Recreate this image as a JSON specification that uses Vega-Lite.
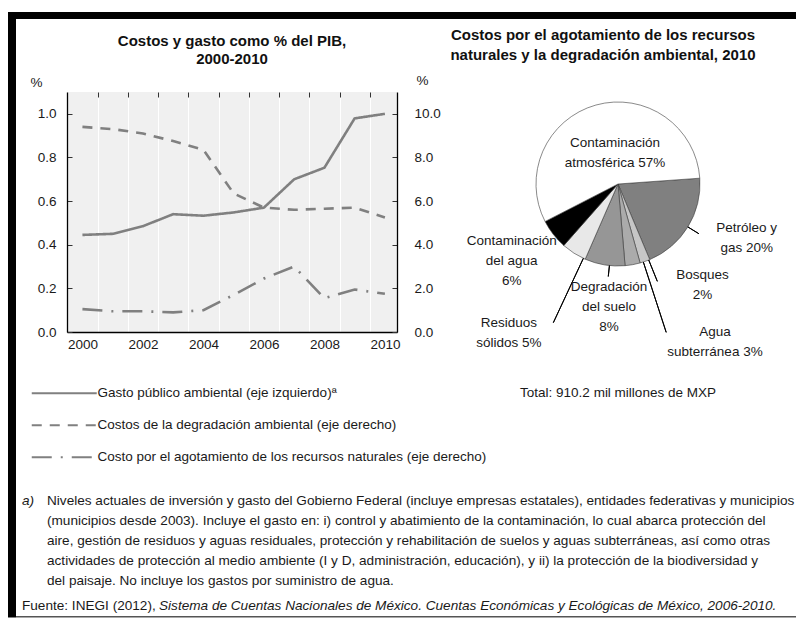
{
  "$schema": "https://vega.github.io/schema/vega-lite/v6.json",
  "padding": {"left": 8, "top": 12, "right": 0, "bottom": 0},
  "background": "white",
  "bounds": "flush",
  "spacing": 0,
  "columns": 5,
  "align": "each",
  "config": {
    "view": {"stroke": null},
    "font": "Liberation Sans, Arial, sans-serif",
    "title": {"font": "Liberation Sans, Arial, sans-serif", "fontSize": 15, "fontWeight": "bold", "color": "#111111", "lineHeight": 18, "anchor": "middle"},
    "axis": {"labelFont": "Liberation Sans, Arial, sans-serif", "labelFontSize": 13.5, "labelColor": "#1a1a1a", "titleFont": "Liberation Sans, Arial, sans-serif", "titleFontSize": 13.5, "titleColor": "#1a1a1a", "titleFontWeight": "normal", "labelFlush": false, "labelOverlap": false},
    "legend": {"labelFont": "Liberation Sans, Arial, sans-serif", "labelFontSize": 13.5, "labelColor": "#1a1a1a"},
    "text": {"font": "Liberation Sans, Arial, sans-serif", "fontSize": 13.6, "color": "#1a1a1a"}
  },
  "concat": [
    {"width": 8, "height": 7, "data": {"values": []}, "mark": "point", "encoding": {}, "view": {"fill": "#000000"}},
    {"width": 51, "height": 7, "data": {"values": []}, "mark": "point", "encoding": {}, "view": {"fill": "#000000"}},
    {"width": 330, "height": 7, "data": {"values": []}, "mark": "point", "encoding": {}, "view": {"fill": "#000000"}},
    {"width": 121, "height": 7, "data": {"values": []}, "mark": "point", "encoding": {}, "view": {"fill": "#000000"}},
    {"width": 278, "height": 7, "data": {"values": []}, "mark": "point", "encoding": {}, "view": {"fill": "#000000"}},

    {"width": 8, "height": 73, "data": {"values": []}, "mark": "point", "encoding": {}, "view": {"fill": "#000000"}},
    {"width": 1, "height": 1, "data": {"values": []}, "mark": "point", "encoding": {}},
    {"width": 1, "height": 1, "data": {"values": []}, "mark": "point", "encoding": {}},
    {"width": 1, "height": 1, "data": {"values": []}, "mark": "point", "encoding": {}},
    {
      "width": 200,
      "height": 73,
      "data": {"values": [{"t": "Costos por el agotamiento de los recursos\nnaturales y la degradación ambiental, 2010"}]},
      "mark": {"type": "text", "lineBreak": "\n", "lineHeight": 20, "fontSize": 15, "fontWeight": "bold", "color": "#111111", "align": "center", "baseline": "middle", "dx": -15, "dy": -20.5},
      "encoding": {"text": {"field": "t", "type": "nominal"}}
    },

    {"width": 8, "height": 240, "data": {"values": []}, "mark": "point", "encoding": {}, "view": {"fill": "#000000"}},
    {"width": 51, "height": 1, "data": {"values": []}, "mark": "point", "encoding": {}},
    {
      "width": 330,
      "height": 240,
      "view": {"fill": "#f0f0f0", "stroke": null},
      "title": {"text": ["Costos y gasto como % del PIB,", "2000-2010"], "offset": 6},
      "data": {"values": [
        {"anio": 2000, "serie": "Gasto público ambiental (eje izquierdo)ª", "valor": 0.445},
        {"anio": 2001, "serie": "Gasto público ambiental (eje izquierdo)ª", "valor": 0.45},
        {"anio": 2002, "serie": "Gasto público ambiental (eje izquierdo)ª", "valor": 0.485},
        {"anio": 2003, "serie": "Gasto público ambiental (eje izquierdo)ª", "valor": 0.54},
        {"anio": 2004, "serie": "Gasto público ambiental (eje izquierdo)ª", "valor": 0.533},
        {"anio": 2005, "serie": "Gasto público ambiental (eje izquierdo)ª", "valor": 0.548},
        {"anio": 2006, "serie": "Gasto público ambiental (eje izquierdo)ª", "valor": 0.57},
        {"anio": 2007, "serie": "Gasto público ambiental (eje izquierdo)ª", "valor": 0.7},
        {"anio": 2008, "serie": "Gasto público ambiental (eje izquierdo)ª", "valor": 0.753},
        {"anio": 2009, "serie": "Gasto público ambiental (eje izquierdo)ª", "valor": 0.979},
        {"anio": 2010, "serie": "Gasto público ambiental (eje izquierdo)ª", "valor": 1.0},
        {"anio": 2000, "serie": "Costos de la degradación ambiental (eje derecho)", "valor": 9.4},
        {"anio": 2001, "serie": "Costos de la degradación ambiental (eje derecho)", "valor": 9.3},
        {"anio": 2002, "serie": "Costos de la degradación ambiental (eje derecho)", "valor": 9.1},
        {"anio": 2003, "serie": "Costos de la degradación ambiental (eje derecho)", "valor": 8.75},
        {"anio": 2004, "serie": "Costos de la degradación ambiental (eje derecho)", "valor": 8.35},
        {"anio": 2005, "serie": "Costos de la degradación ambiental (eje derecho)", "valor": 6.35},
        {"anio": 2006, "serie": "Costos de la degradación ambiental (eje derecho)", "valor": 5.7},
        {"anio": 2007, "serie": "Costos de la degradación ambiental (eje derecho)", "valor": 5.6},
        {"anio": 2008, "serie": "Costos de la degradación ambiental (eje derecho)", "valor": 5.65},
        {"anio": 2009, "serie": "Costos de la degradación ambiental (eje derecho)", "valor": 5.7},
        {"anio": 2010, "serie": "Costos de la degradación ambiental (eje derecho)", "valor": 5.25},
        {"anio": 2000, "serie": "Costo por el agotamiento de los recursos naturales (eje derecho)", "valor": 1.05},
        {"anio": 2001, "serie": "Costo por el agotamiento de los recursos naturales (eje derecho)", "valor": 0.95},
        {"anio": 2002, "serie": "Costo por el agotamiento de los recursos naturales (eje derecho)", "valor": 0.95},
        {"anio": 2003, "serie": "Costo por el agotamiento de los recursos naturales (eje derecho)", "valor": 0.9},
        {"anio": 2004, "serie": "Costo por el agotamiento de los recursos naturales (eje derecho)", "valor": 1.0},
        {"anio": 2005, "serie": "Costo por el agotamiento de los recursos naturales (eje derecho)", "valor": 1.7},
        {"anio": 2006, "serie": "Costo por el agotamiento de los recursos naturales (eje derecho)", "valor": 2.45},
        {"anio": 2007, "serie": "Costo por el agotamiento de los recursos naturales (eje derecho)", "valor": 3.0},
        {"anio": 2008, "serie": "Costo por el agotamiento de los recursos naturales (eje derecho)", "valor": 1.55},
        {"anio": 2009, "serie": "Costo por el agotamiento de los recursos naturales (eje derecho)", "valor": 1.95},
        {"anio": 2010, "serie": "Costo por el agotamiento de los recursos naturales (eje derecho)", "valor": 1.75}
      ]},
      "layer": [
        {
          "transform": [{"filter": "datum.serie === 'Gasto público ambiental (eje izquierdo)ª'"}],
          "mark": {"type": "line", "color": "#808080", "strokeWidth": 2.6, "strokeCap": "butt"},
          "encoding": {
            "x": {"field": "anio", "type": "quantitative", "scale": {"domain": [1999.49, 2010.4], "nice": false, "zero": false},
              "axis": {"values": [2000, 2002, 2004, 2006, 2008, 2010], "format": "d", "ticks": false, "grid": false, "domainColor": "#000000", "domainWidth": 1.3, "labelPadding": 5, "title": null}},
            "y": {"field": "valor", "type": "quantitative", "scale": {"domain": [0, 1.1], "nice": false},
              "axis": {"orient": "left", "values": [0, 0.2, 0.4, 0.6, 0.8, 1.0], "format": ".1f", "grid": false, "domainColor": "#000000", "domainWidth": 1.3, "tickColor": "#333333", "tickSize": -5, "labelPadding": 16, "title": "%", "titleAngle": 0, "titleX": -31, "titleY": -10, "titleAlign": "center", "titleBaseline": "middle"}},
            "strokeDash": {"field": "serie", "type": "nominal",
              "scale": {"domain": ["Gasto público ambiental (eje izquierdo)ª", "Costos de la degradación ambiental (eje derecho)", "Costo por el agotamiento de los recursos naturales (eje derecho)"], "range": [[1, 0], [10, 8], [20, 9, 2, 9]]},
              "legend": {"orient": "none", "legendX": 49.5, "legendY": 374.5, "title": null, "symbolType": "M-6.5,0H6.5", "symbolSize": 100, "symbolStrokeWidth": 2, "symbolStrokeColor": "#808080", "symbolFillColor": "transparent", "rowPadding": 17, "labelOffset": 26.5, "padding": 0, "direction": "vertical", "labelLimit": 600}}
          }
        },
        {
          "transform": [{"filter": "datum.serie !== 'Gasto público ambiental (eje izquierdo)ª'"}],
          "mark": {"type": "line", "color": "#808080", "strokeWidth": 2.6, "strokeCap": "butt"},
          "encoding": {
            "x": {"field": "anio", "type": "quantitative", "scale": {"domain": [1999.49, 2010.4], "nice": false, "zero": false},
              "axis": {"values": [2000.5, 2001.5, 2002.5, 2003.5, 2004.5, 2005.5, 2006.5, 2007.5, 2008.5, 2009.5], "labels": false, "ticks": true, "tickSize": -5, "tickColor": "#333333", "domain": false, "grid": true, "gridColor": "#ffffff", "gridWidth": 1, "title": null}},
            "y": {"field": "valor", "type": "quantitative", "scale": {"domain": [0, 11], "nice": false},
              "axis": {"orient": "right", "values": [0, 2, 4, 6, 8, 10], "format": ".1f", "grid": false, "domainColor": "#000000", "domainWidth": 1.3, "tickColor": "#333333", "tickSize": -5, "labelPadding": 22, "title": "%", "titleAngle": 0, "titleX": 25, "titleY": -12, "titleAlign": "center", "titleBaseline": "middle"}},
            "strokeDash": {"field": "serie", "type": "nominal",
              "scale": {"domain": ["Gasto público ambiental (eje izquierdo)ª", "Costos de la degradación ambiental (eje derecho)", "Costo por el agotamiento de los recursos naturales (eje derecho)"], "range": [[1, 0], [10, 8], [20, 9, 2, 9]]},
              "legend": {"orient": "none", "legendX": 49.5, "legendY": 374.5, "title": null, "symbolType": "M-6.5,0H6.5", "symbolSize": 100, "symbolStrokeWidth": 2, "symbolStrokeColor": "#808080", "symbolFillColor": "transparent", "rowPadding": 17, "labelOffset": 26.5, "padding": 0, "direction": "vertical", "labelLimit": 600}}
          }
        }
      ],
      "resolve": {"scale": {"y": "independent"}, "axis": {"x": "independent", "y": "independent"}}
    },
    {"width": 121, "height": 1, "data": {"values": []}, "mark": "point", "encoding": {}},
    {
      "width": 200,
      "height": 184,
      "data": {"values": [
        {"idx": 1, "cat": "Petróleo y gas", "pct": 20, "label": "Petróleo y\ngas 20%"},
        {"idx": 2, "cat": "Bosques", "pct": 2, "label": "Bosques\n2%"},
        {"idx": 3, "cat": "Agua subterránea", "pct": 3, "label": "Agua\nsubterránea 3%"},
        {"idx": 4, "cat": "Degradación del suelo", "pct": 8, "label": "Degradación\ndel suelo\n8%"},
        {"idx": 5, "cat": "Residuos sólidos", "pct": 5, "label": "Residuos\nsólidos 5%"},
        {"idx": 6, "cat": "Contaminación del agua", "pct": 6, "label": "Contaminación\ndel agua\n6%"},
        {"idx": 7, "cat": "Contaminación atmosférica", "pct": 57, "label": "Contaminación\natmosférica 57%"}
      ]},
      "layer": [
        {
          "mark": {"type": "arc", "radius": 82, "stroke": "#3a3a3a", "strokeWidth": 0.6},
          "encoding": {
            "theta": {"field": "pct", "type": "quantitative", "stack": true, "scale": {"range": [1.5, 7.78319]}},
            "order": {"field": "idx", "type": "quantitative"},
            "color": {"field": "cat", "type": "nominal", "legend": null,
              "scale": {"domain": ["Petróleo y gas", "Bosques", "Agua subterránea", "Degradación del suelo", "Residuos sólidos", "Contaminación del agua", "Contaminación atmosférica"],
                "range": ["#808080", "#c6c6c6", "#ababab", "#969696", "#e8e8e8", "#000000", "#ffffff"]}}
          }
        },
        {
          "mark": {"type": "arc", "radius": 95, "radius2": 82, "padAngle": 3, "thetaOffset": 0, "fill": null, "stroke": "#000000", "strokeWidth": 1},
          "encoding": {
            "theta": {"field": "pct", "type": "quantitative", "stack": true},
            "order": {"field": "idx", "type": "quantitative"},
            "opacity": {"condition": {"test": "datum.cat === 'Petróleo y gas'", "value": 1}, "value": 0}
          }
        },
        {
          "mark": {"type": "arc", "radius": 105, "radius2": 82, "padAngle": 3, "thetaOffset": -0.0488, "fill": null, "stroke": "#000000", "strokeWidth": 1},
          "encoding": {
            "theta": {"field": "pct", "type": "quantitative", "stack": true},
            "order": {"field": "idx", "type": "quantitative"},
            "opacity": {"condition": {"test": "datum.cat === 'Bosques'", "value": 1}, "value": 0}
          }
        },
        {
          "mark": {"type": "arc", "radius": 156, "radius2": 82, "padAngle": 3, "thetaOffset": -0.1345, "fill": null, "stroke": "#000000", "strokeWidth": 1},
          "encoding": {
            "theta": {"field": "pct", "type": "quantitative", "stack": true},
            "order": {"field": "idx", "type": "quantitative"},
            "opacity": {"condition": {"test": "datum.cat === 'Agua subterránea'", "value": 1}, "value": 0}
          }
        },
        {
          "mark": {"type": "arc", "radius": 93, "radius2": 82, "padAngle": 3, "thetaOffset": -0.0578, "fill": null, "stroke": "#000000", "strokeWidth": 1},
          "encoding": {
            "theta": {"field": "pct", "type": "quantitative", "stack": true},
            "order": {"field": "idx", "type": "quantitative"},
            "opacity": {"condition": {"test": "datum.cat === 'Degradación del suelo'", "value": 1}, "value": 0}
          }
        },
        {
          "mark": {"type": "arc", "radius": 153, "radius2": 82, "padAngle": 3, "thetaOffset": -0.1305, "fill": null, "stroke": "#000000", "strokeWidth": 1},
          "encoding": {
            "theta": {"field": "pct", "type": "quantitative", "stack": true},
            "order": {"field": "idx", "type": "quantitative"},
            "opacity": {"condition": {"test": "datum.cat === 'Residuos sólidos'", "value": 1}, "value": 0}
          }
        },
        {
          "mark": {"type": "text", "radius": 32, "dx": 5.6, "dy": -10, "lineBreak": "\n", "lineHeight": 20, "fontSize": 13.5, "align": "center", "baseline": "middle"},
          "encoding": {
            "theta": {"field": "pct", "type": "quantitative", "stack": true},
            "order": {"field": "idx", "type": "quantitative"},
            "text": {"condition": {"test": "datum.cat === 'Contaminación atmosférica'", "field": "label", "type": "nominal"}, "value": ""}
          }
        },
        {
          "mark": {"type": "text", "radius": 140, "dx": 9.4, "dy": -29.3, "lineBreak": "\n", "lineHeight": 20, "fontSize": 13.5, "align": "center", "baseline": "middle"},
          "encoding": {
            "theta": {"field": "pct", "type": "quantitative", "stack": true},
            "order": {"field": "idx", "type": "quantitative"},
            "text": {"condition": {"test": "datum.cat === 'Petróleo y gas'", "field": "label", "type": "nominal"}, "value": ""}
          }
        },
        {
          "mark": {"type": "text", "radius": 107, "dx": 49.3, "dy": -10, "lineBreak": "\n", "lineHeight": 20, "fontSize": 13.5, "align": "center", "baseline": "middle"},
          "encoding": {
            "theta": {"field": "pct", "type": "quantitative", "stack": true},
            "order": {"field": "idx", "type": "quantitative"},
            "text": {"condition": {"test": "datum.cat === 'Bosques'", "field": "label", "type": "nominal"}, "value": ""}
          }
        },
        {
          "mark": {"type": "text", "radius": 160, "dx": 68.4, "dy": -9.7, "lineBreak": "\n", "lineHeight": 20, "fontSize": 13.5, "align": "center", "baseline": "middle"},
          "encoding": {
            "theta": {"field": "pct", "type": "quantitative", "stack": true},
            "order": {"field": "idx", "type": "quantitative"},
            "text": {"condition": {"test": "datum.cat === 'Agua subterránea'", "field": "label", "type": "nominal"}, "value": ""}
          }
        },
        {
          "mark": {"type": "text", "radius": 124.3, "dx": 11.1, "dy": -20, "lineBreak": "\n", "lineHeight": 20, "fontSize": 13.5, "align": "center", "baseline": "middle"},
          "encoding": {
            "theta": {"field": "pct", "type": "quantitative", "stack": true},
            "order": {"field": "idx", "type": "quantitative"},
            "text": {"condition": {"test": "datum.cat === 'Degradación del suelo'", "field": "label", "type": "nominal"}, "value": ""}
          }
        },
        {
          "mark": {"type": "text", "radius": 150, "dx": -28.5, "dy": 12.7, "lineBreak": "\n", "lineHeight": 20, "fontSize": 13.5, "align": "center", "baseline": "middle"},
          "encoding": {
            "theta": {"field": "pct", "type": "quantitative", "stack": true},
            "order": {"field": "idx", "type": "quantitative"},
            "text": {"condition": {"test": "datum.cat === 'Residuos sólidos'", "field": "label", "type": "nominal"}, "value": ""}
          }
        },
        {
          "mark": {"type": "text", "radius": 125, "dx": -7.7, "dy": -20, "lineBreak": "\n", "lineHeight": 20, "fontSize": 13.5, "align": "center", "baseline": "middle"},
          "encoding": {
            "theta": {"field": "pct", "type": "quantitative", "stack": true},
            "order": {"field": "idx", "type": "quantitative"},
            "text": {"condition": {"test": "datum.cat === 'Contaminación del agua'", "field": "label", "type": "nominal"}, "value": ""}
          }
        },
        {
          "data": {"values": [{"t": "Total: 910.2 mil millones de MXP"}]},
          "mark": {"type": "text", "dy": 209, "fontSize": 13.5, "align": "center", "baseline": "middle"},
          "encoding": {"text": {"field": "t", "type": "nominal"}}
        }
      ]
    },

    {"width": 8, "height": 159, "data": {"values": []}, "mark": "point", "encoding": {}, "view": {"fill": "#000000"}},
    {"width": 1, "height": 1, "data": {"values": []}, "mark": "point", "encoding": {}},
    {"width": 1, "height": 1, "data": {"values": []}, "mark": "point", "encoding": {}},
    {"width": 1, "height": 1, "data": {"values": []}, "mark": "point", "encoding": {}},
    {"width": 1, "height": 1, "data": {"values": []}, "mark": "point", "encoding": {}},

    {"width": 8, "height": 120, "data": {"values": []}, "mark": "point", "encoding": {}, "view": {"fill": "#000000"}},
    {
      "width": 51,
      "height": 120,
      "data": {"values": [
        {"line": 1, "text": "Niveles actuales de inversión y gasto del Gobierno Federal (incluye empresas estatales), entidades federativas y municipios"},
        {"line": 2, "text": "(municipios desde 2003). Incluye el gasto en: i) control y abatimiento de la contaminación, lo cual abarca protección del"},
        {"line": 3, "text": "aire, gestión de residuos y aguas residuales, protección y rehabilitación de suelos y aguas subterráneas, así como otras"},
        {"line": 4, "text": "actividades de protección al medio ambiente (I y D, administración, educación), y ii) la protección de la biodiversidad y"},
        {"line": 5, "text": "del paisaje. No incluye los gastos por suministro de agua."}
      ]},
      "layer": [
        {
          "mark": {"type": "text", "align": "left", "baseline": "middle", "dx": 31},
          "encoding": {
            "x": {"datum": 0, "type": "quantitative", "scale": {"domain": [0, 1]}, "axis": null},
            "y": {"field": "line", "type": "quantitative", "scale": {"domain": [0.5, 6.5], "reverse": true, "nice": false, "zero": false}, "axis": null},
            "text": {"field": "text", "type": "nominal"}
          }
        },
        {
          "data": {"values": [{"line": 1, "text": "a)"}]},
          "mark": {"type": "text", "align": "left", "baseline": "middle", "dx": 6, "fontStyle": "italic"},
          "encoding": {
            "x": {"datum": 0, "type": "quantitative", "scale": {"domain": [0, 1]}, "axis": null},
            "y": {"field": "line", "type": "quantitative", "axis": null},
            "text": {"field": "text", "type": "nominal"}
          }
        },
        {
          "data": {"values": [{"line": 6, "text": "Fuente: INEGI (2012),"}]},
          "mark": {"type": "text", "align": "left", "baseline": "middle", "dx": 6, "dy": 5},
          "encoding": {
            "x": {"datum": 0, "type": "quantitative", "scale": {"domain": [0, 1]}, "axis": null},
            "y": {"field": "line", "type": "quantitative", "axis": null},
            "text": {"field": "text", "type": "nominal"}
          }
        },
        {
          "data": {"values": [{"line": 6, "text": "Sistema de Cuentas Nacionales de México. Cuentas Económicas y Ecológicas de México, 2006-2010."}]},
          "mark": {"type": "text", "align": "left", "baseline": "middle", "dx": 143, "dy": 5, "fontStyle": "italic"},
          "encoding": {
            "x": {"datum": 0, "type": "quantitative", "scale": {"domain": [0, 1]}, "axis": null},
            "y": {"field": "line", "type": "quantitative", "axis": null},
            "text": {"field": "text", "type": "nominal"}
          }
        }
      ]
    },
    {"width": 1, "height": 1, "data": {"values": []}, "mark": "point", "encoding": {}},
    {"width": 1, "height": 1, "data": {"values": []}, "mark": "point", "encoding": {}},
    {"width": 1, "height": 1, "data": {"values": []}, "mark": "point", "encoding": {}},

    {"width": 8, "height": 5, "data": {"values": []}, "mark": "point", "encoding": {}, "view": {"fill": "#000000"}},
    {"width": 1, "height": 1, "data": {"values": []}, "mark": "point", "encoding": {}},
    {"width": 1, "height": 1, "data": {"values": []}, "mark": "point", "encoding": {}},
    {"width": 1, "height": 1, "data": {"values": []}, "mark": "point", "encoding": {}},
    {"width": 1, "height": 1, "data": {"values": []}, "mark": "point", "encoding": {}},

    {"width": 8, "height": 1.5, "data": {"values": []}, "mark": "point", "encoding": {}, "view": {"fill": "#000000"}},
    {"width": 51, "height": 1.5, "data": {"values": []}, "mark": "point", "encoding": {}, "view": {"fill": "#555555"}},
    {"width": 330, "height": 1.5, "data": {"values": []}, "mark": "point", "encoding": {}, "view": {"fill": "#555555"}},
    {"width": 121, "height": 1.5, "data": {"values": []}, "mark": "point", "encoding": {}, "view": {"fill": "#555555"}},
    {"width": 278, "height": 1.5, "data": {"values": []}, "mark": "point", "encoding": {}, "view": {"fill": "#555555"}}
  ]
}
